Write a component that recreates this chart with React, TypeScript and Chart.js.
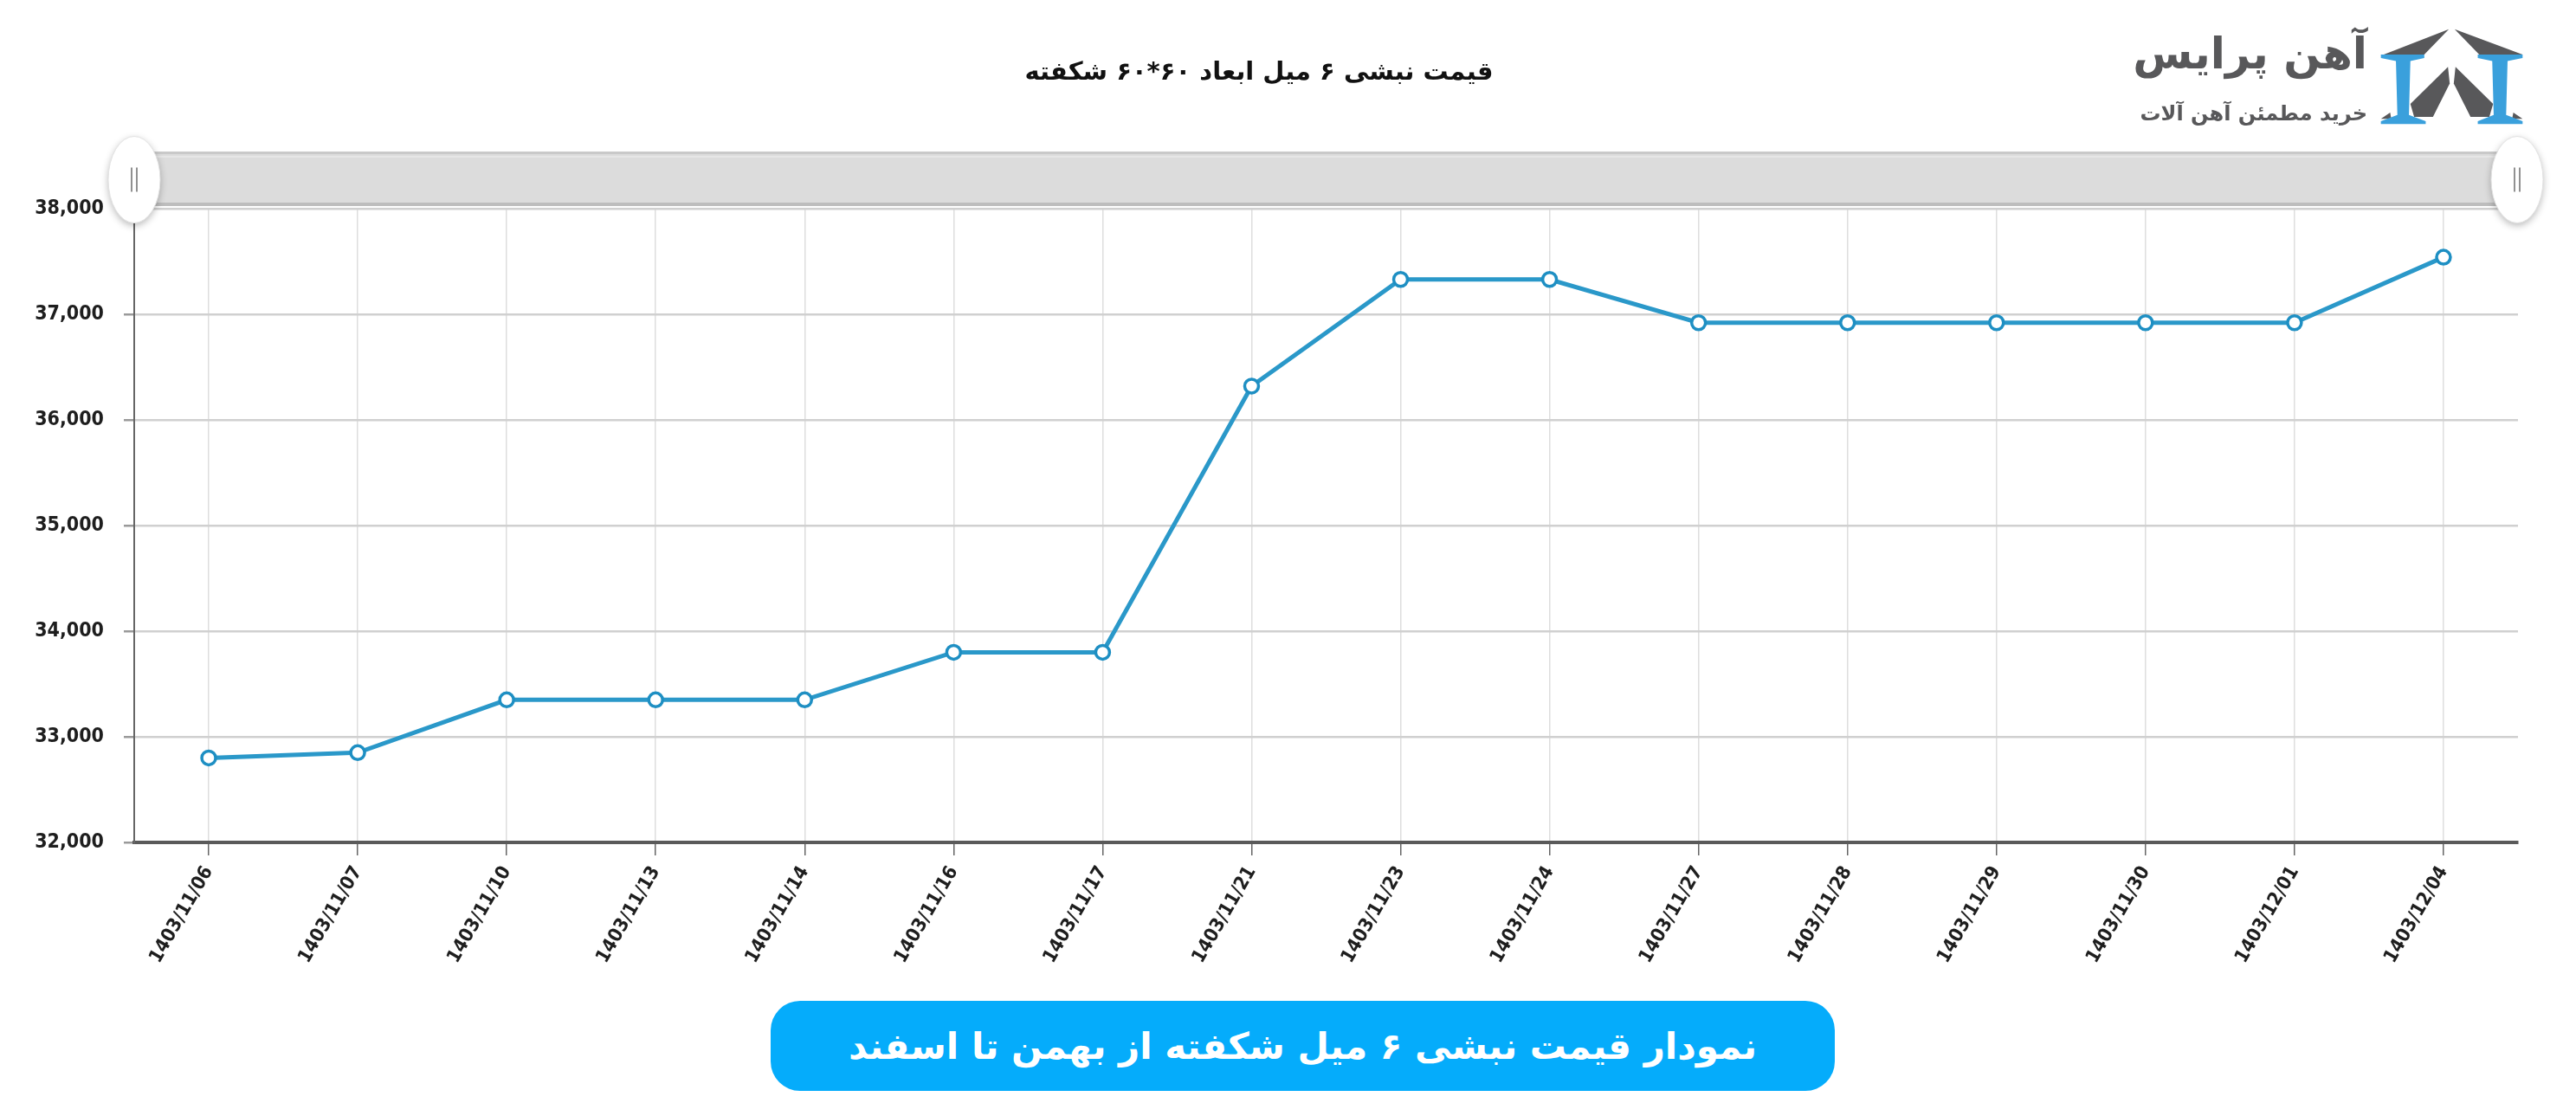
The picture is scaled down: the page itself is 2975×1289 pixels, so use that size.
import React, { useEffect, useRef } from "react";
import Chart from "chart.js/auto";

const W = 2975;
const H = 1289;

const chartTitle = "قیمت نبشی ۶ میل ابعاد ۶۰*۶۰ شکفته";
const buttonText = "نمودار قیمت نبشی ۶ میل شکفته از بهمن تا اسفند";
const brandName = "آهن پرایس";
const brandSlogan = "خرید مطمئن آهن آلات";

const dates = [
  "1403/11/06",
  "1403/11/07",
  "1403/11/10",
  "1403/11/13",
  "1403/11/14",
  "1403/11/16",
  "1403/11/17",
  "1403/11/21",
  "1403/11/23",
  "1403/11/24",
  "1403/11/27",
  "1403/11/28",
  "1403/11/29",
  "1403/11/30",
  "1403/12/01",
  "1403/12/04",
];

const prices = [
  32800, 32850, 33350, 33350, 33350, 33800, 33800, 36320, 37330, 37330, 36920,
  36920, 36920, 36920, 36920, 37540,
];

const yMin = 32000;
const yMax = 38000;
const yStep = 1000;

const narrowFont =
  '"Liberation Sans Narrow", "DejaVu Sans Condensed", "Roboto Condensed", "Liberation Sans", sans-serif';
const persianFont = '"DejaVu Sans", "Noto Sans", sans-serif';

const scrollbarPlugin = {
  id: "scrollbarDecor",
  afterDraw(chart: any) {
    const { ctx, chartArea } = chart;
    const { left, right, top } = chartArea;
    const y0 = top - 66;
    const y1 = top - 3;
    ctx.save();
    ctx.fillStyle = "#dcdcdc";
    ctx.fillRect(left, y0, right - left, y1 - y0);
    ctx.fillStyle = "#c9c9c9";
    ctx.fillRect(left, y0, right - left, 3);
    ctx.fillStyle = "#bdbdbd";
    ctx.fillRect(left, y1 - 4, right - left, 4);
    ctx.fillStyle = "#e6e6e6";
    ctx.fillRect(left, y0 + 5, right - left, 2);

    const drawHandle = (cx: number) => {
      const cy = (y0 + y1) / 2 + 1;
      const hw = 30;
      const hh = 50;
      ctx.save();
      ctx.shadowColor = "rgba(0,0,0,0.28)";
      ctx.shadowBlur = 8;
      ctx.shadowOffsetY = 3;
      ctx.beginPath();
      ctx.ellipse(cx, cy, hw, hh, 0, 0, Math.PI * 2);
      ctx.fillStyle = "#ffffff";
      ctx.fill();
      ctx.restore();
      ctx.strokeStyle = "#e2e2e2";
      ctx.lineWidth = 1;
      ctx.beginPath();
      ctx.ellipse(cx, cy, hw, hh, 0, 0, Math.PI * 2);
      ctx.stroke();
      ctx.strokeStyle = "#777";
      ctx.lineWidth = 1.6;
      ctx.beginPath();
      ctx.moveTo(cx - 3, cy - 14);
      ctx.lineTo(cx - 3, cy + 14);
      ctx.moveTo(cx + 3, cy - 14);
      ctx.lineTo(cx + 3, cy + 14);
      ctx.stroke();
    };
    drawHandle(left);
    drawHandle(right - 1);
    ctx.restore();
  },
};

function Logo() {
  return (
    <div style={{ position: "absolute", left: 2470, top: 22, width: 460, height: 130 }}>
      <div
        style={{
          position: "absolute",
          right: 196,
          top: 4,
          direction: "rtl",
          textAlign: "right",
          whiteSpace: "nowrap",
          fontFamily: persianFont,
          fontWeight: 700,
          fontSize: 50,
          lineHeight: "72px",
          color: "#58585a",
          letterSpacing: -1,
        }}
      >
        {brandName}
      </div>
      <div
        style={{
          position: "absolute",
          right: 196,
          top: 92,
          direction: "rtl",
          textAlign: "right",
          whiteSpace: "nowrap",
          fontFamily: persianFont,
          fontWeight: 700,
          fontSize: 24,
          lineHeight: "34px",
          color: "#58585a",
        }}
      >
        {brandSlogan}
      </div>
      <svg
        style={{ position: "absolute", left: 278, top: 11 }}
        width={167}
        height={112}
        viewBox="145 40 500 335"
        preserveAspectRatio="none"
      >
        <polygon points="385,42 160,130 300,130" fill="#58585a" />
        <polygon points="405,42 640,130 490,130" fill="#58585a" />
        <polygon points="382,172 252,300 265,345 330,345 388,230" fill="#58585a" />
        <polygon points="408,172 538,300 525,345 460,345 402,230" fill="#58585a" />
        <polygon points="150,352 182,330 186,352" fill="#58585a" />
        <polygon points="640,352 608,330 604,352" fill="#58585a" />
        <polygon
          points="150,130 300,130 300,142 252,152 247,338 305,360 305,370 150,370 150,360 207,338 202,152 150,142"
          fill="#3aa0dc"
        />
        <polygon
          points="485,130 640,130 640,142 588,152 583,338 640,360 640,370 485,370 485,360 540,338 535,152 485,142"
          fill="#3aa0dc"
        />
      </svg>
    </div>
  );
}

export default function App() {
  const canvasRef = useRef<HTMLCanvasElement | null>(null);

  useEffect(() => {
    document.body.style.margin = "0";
    const canvas = canvasRef.current;
    if (!canvas) return;
    const chart = new Chart(canvas, {
      type: "line",
      data: {
        labels: dates,
        datasets: [
          {
            data: prices,
            borderColor: "#2a98c9",
            borderWidth: 5,
            pointRadius: 8,
            pointHoverRadius: 8,
            pointBackgroundColor: "#ffffff",
            pointBorderColor: "#1e8fc3",
            pointBorderWidth: 3.5,
            tension: 0,
            fill: false,
          },
        ],
      },
      options: {
        responsive: false,
        animation: false,
        devicePixelRatio: 1,
        layout: { padding: { left: 0, right: 67, top: 0, bottom: 0 } },
        plugins: {
          legend: { display: false },
          tooltip: { enabled: false },
          title: {
            display: true,
            text: chartTitle,
            color: "#111",
            font: { family: persianFont, size: 29, weight: "bold" },
            padding: { top: 67, bottom: 139.2 },
          },
        },
        scales: {
          x: {
            offset: true,
            afterFit: (scale: any) => {
              scale.height = H - 973;
            },
            grid: {
              offset: false,
              color: "#dedede",
              lineWidth: 1.5,
              drawTicks: true,
              tickLength: 15,
              tickColor: "#666",
              tickWidth: 1.5,
            },
            border: { display: true, color: "#5a5a5a", width: 4 },
            ticks: {
              autoSkip: false,
              minRotation: 60,
              maxRotation: 60,
              padding: 8,
              color: "#1e1e1e",
              font: { family: narrowFont, size: 22, weight: "bold" },
            },
          },
          y: {
            min: yMin,
            max: yMax,
            afterFit: (scale: any) => {
              scale.width = 155;
            },
            grid: {
              color: "#d0d0d0",
              lineWidth: 2.5,
              drawTicks: true,
              tickLength: 12,
              tickColor: "#9a9a9a",
            },
            border: { display: true, color: "#666", width: 2 },
            ticks: {
              stepSize: yStep,
              padding: 23,
              color: "#1e1e1e",
              font: { family: narrowFont, size: 23, weight: "bold" },
              callback: (v: any) => Number(v).toLocaleString("en-US"),
            },
          },
        },
      },
      plugins: [scrollbarPlugin],
    });
    return () => chart.destroy();
  }, []);

  return (
    <div
      style={{
        position: "relative",
        width: W,
        height: H,
        overflow: "hidden",
        background: "#ffffff",
      }}
    >
      <canvas
        ref={canvasRef}
        width={W}
        height={H}
        style={{ position: "absolute", left: 0, top: 0, width: W, height: H }}
      />
      <Logo />
      <div
        style={{
          position: "absolute",
          left: 890,
          top: 1156,
          width: 1229,
          height: 104,
          borderRadius: 34,
          background: "#05acfb",
          color: "#ffffff",
          display: "flex",
          alignItems: "center",
          justifyContent: "center",
          direction: "rtl",
          fontFamily: persianFont,
          fontWeight: 700,
          fontSize: 42,
          whiteSpace: "nowrap",
        }}
      >
        {buttonText}
      </div>
    </div>
  );
}
